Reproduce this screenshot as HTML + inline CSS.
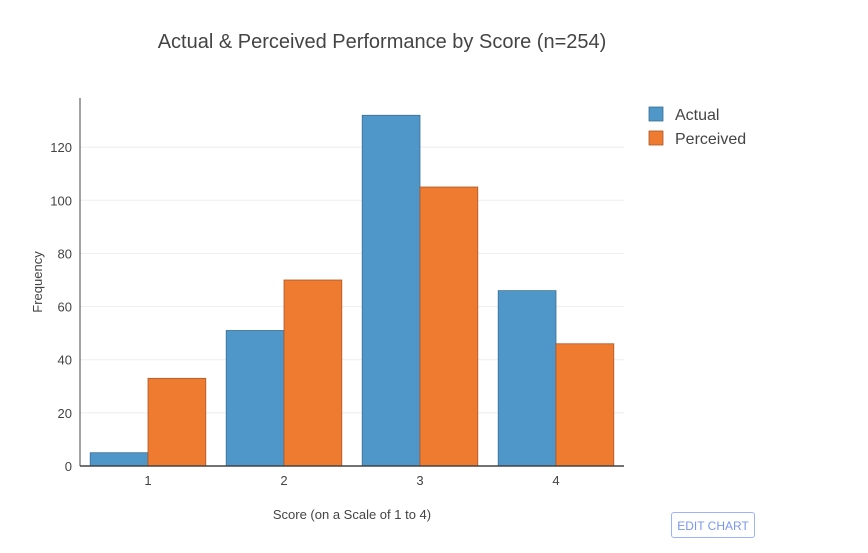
<!DOCTYPE html>
<html><head><meta charset="utf-8"><style>
body{margin:0;background:#fff;font-family:"Liberation Sans",sans-serif;}
#wrap{position:relative;width:868px;height:548px;}
.btn{position:absolute;left:671px;top:512px;width:84px;height:26px;border:1px solid #9eb3ff;border-radius:3px;color:#7b96f0;font-size:12px;line-height:26px;text-align:center;box-sizing:border-box;background:#fff;}
</style></head><body>
<div id="wrap">
<svg id="chart" width="868" height="548"></svg>
<div class="btn">EDIT CHART</div>
</div>
<script>
const categories=["1","2","3","4"];
const actual=[5,51,132,66];
const perceived=[33,70,105,46];
const yTicks=[0,20,40,60,80,100,120];
const seriesNames=["Actual","Perceived"];
const colors=["#4f97c9","#ef7b30"];
const strokes=["#3d6f92","#a9582a"];
const svg=document.getElementById('chart');
const NS="http://www.w3.org/2000/svg";
const L=80,R=624,T=98,B=466,yMax=138.5;
function y(v){return B-v/yMax*(B-T);}
const cw=(R-L)/categories.length;
function x(i){return L+cw*(i+0.5);}
function mk(tag,attrs,parent){const e=document.createElementNS(NS,tag);for(const k in attrs)e.setAttribute(k,attrs[k]);(parent||svg).appendChild(e);return e;}
function txt(s,attrs,name){const e=mk('text',attrs);e.textContent=s;


return e;}
txt("Actual & Perceived Performance by Score (n=254)",{x:382,y:48,'text-anchor':'middle','font-size':20,fill:'#444'},'chart-title');
yTicks.forEach(t=>{
 if(t>0){const g=mk('line',{x1:L,x2:R,y1:y(t),y2:y(t),stroke:'#eee','stroke-width':1});
 
 }
 txt(String(t),{x:L-8,y:y(t)+5,'text-anchor':'end','font-size':13,fill:'#444'},'y-tick-'+t);
});
const bw=cw*0.85/2;
[actual,perceived].forEach((arr,s)=>{
 arr.forEach((v,i)=>{
  const bx=x(i)-bw+s*bw;
  const r=mk('rect',{x:bx,y:y(v),width:bw,height:B-y(v),fill:colors[s],stroke:strokes[s],'stroke-width':0.8});
  
  
 });
});
const ya=mk('line',{x1:L,x2:L,y1:T,y2:B,stroke:'#444','stroke-width':1});


const xa=mk('line',{x1:L,x2:R,y1:B,y2:B,stroke:'#444','stroke-width':1.5});


categories.forEach((c,i)=>{
 txt(c,{x:x(i),y:B+19,'text-anchor':'middle','font-size':13,fill:'#444'},'x-tick-'+c);
});
txt("Score (on a Scale of 1 to 4)",{x:352,y:519,'text-anchor':'middle','font-size':13,fill:'#444'},'x-axis-title');
txt("Frequency",{x:42,y:282,'text-anchor':'middle','font-size':13,fill:'#444',transform:'rotate(-90 42 282)'},'y-axis-title');
seriesNames.forEach((n,s)=>{
 const ly=114+s*24;
 const r=mk('rect',{x:649,y:ly-7,width:14,height:14,fill:colors[s],stroke:strokes[s],'stroke-width':0.8});
 
 
 txt(n,{x:675,y:ly+6,'font-size':16,fill:'#444'},'legend-entry-'+n.toLowerCase());
});
</script>
</body></html>
